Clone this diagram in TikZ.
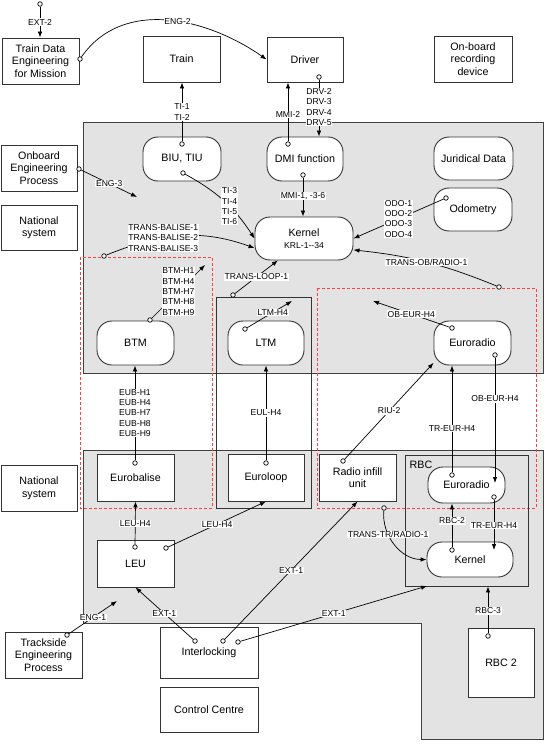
\documentclass[tikz,border=0pt]{standalone}
\usepackage{fontspec}
\setmainfont{Liberation Sans}
\usetikzlibrary{arrows.meta}

\newcommand{\lblsize}{\fontsize{8.6}{10.3}\selectfont}

\begin{document}
\begin{tikzpicture}[
    x=1pt, y=1pt,
    box/.style={draw=black!80, line width=0.9pt, fill=white, minimum width=77pt,
                minimum height=45pt, inner sep=1pt, align=center,
                font=\fontsize{10.7}{12.5}\selectfont},
    rbox/.style={box, rounded corners=15pt},
    region/.style={draw=black!75, line width=0.9pt, fill=black!11},
    group/.style={draw=black!80, line width=0.9pt, inner sep=0pt},
    zone/.style={draw=red!75, line width=0.9pt, dash pattern=on 3pt off 2pt},
    arrow/.style={-{Latex[length=6pt,width=4.5pt]}, line width=0.7pt},
    port/.style={circle, draw, fill=white, line width=0.7pt, minimum size=4.5pt, inner sep=0pt},
    lbl/.style={fill=white, inner sep=0.6pt, align=center, font=\lblsize}
]
\useasboundingbox (0,0) rectangle (545,-746);

% grey areas: on-board and trackside
\path[region] (83,-122) rectangle (543,-373);
\path[region] (83,-450) -- (543,-450) -- (543,-739) -- (421,-739) -- (421,-623)
              -- (83,-623) -- cycle;

% red dashed groupings
\draw[zone] (80,-257) rectangle (212,-508);
\draw[zone] (317,-288) rectangle (536,-508);

% enclosures
\draw[group] (216,-297) rectangle (311,-508);
\node[group, draw, minimum width=123pt, minimum height=131pt] (rbc) at (466.5,-520.5) {};
\node[font=\fontsize{10.7}{12.5}\selectfont] (rbctitle) at (421,-465) {RBC};

% top row
\node[box, minimum height=46pt] (tde) at (40.5,-61) {Train Data\\Engineering\\for Mission};
\node[box, minimum height=46pt] (train) at (181.5,-59) {Train};
\node[box, minimum width=76pt] (driver) at (305,-59.5) {Driver};
\node[box, minimum width=78pt, minimum height=46pt] (obrec) at (473,-59) {On-board\\recording\\device};

% on-board
\node[box, minimum width=76pt, minimum height=46pt] (obe) at (39,-168) {Onboard\\Engineering\\Process};
\node[box, minimum width=76pt] (nat1) at (39,-227.5) {National\\system};
\node[rbox, minimum width=78pt, minimum height=44pt] (biu) at (182,-159) {BIU, TIU};
\node[rbox, minimum width=76pt, minimum height=44pt] (dmi) at (305,-159) {DMI function};
\node[rbox, minimum width=79pt, minimum height=43pt] (jur) at (473.5,-158.5) {Juridical Data};
\node[rbox, minimum width=78pt, minimum height=43pt] (odo) at (473,-209.5) {Odometry};
\node[rbox, minimum width=98pt, minimum height=43pt] (kernel) at (304,-238.5)
     {Kernel\\{\lblsize KRL-1-{}-34}};
\node[rbox, minimum height=44pt] (btm) at (135.5,-343) {BTM};
\node[rbox, minimum width=76pt, minimum height=44pt] (ltm) at (266,-343) {LTM};
\node[rbox, minimum height=44pt] (obeur) at (472.5,-343) {Euroradio};

% trackside
\node[box, minimum height=47pt] (eurobalise) at (135.5,-477.5) {Eurobalise};
\node[box, minimum width=76pt, minimum height=47pt] (euroloop) at (266,-477.5) {Euroloop};
\node[box, minimum width=76pt, minimum height=46pt] (nat2) at (39,-488) {National\\system};
\node[box, minimum height=47pt] (riu) at (357.5,-477.5) {Radio infill\\unit};
\node[rbox, minimum height=36pt] (rbceur) at (466.5,-485) {Euroradio};
\node[rbox, minimum width=86pt, minimum height=35pt] (rbckrl) at (470,-559.5) {Kernel};
\node[box, minimum height=47pt] (leu) at (135.5,-563.5) {LEU};
\node[box, minimum height=46pt] (tep) at (43.5,-655) {Trackside\\Engineering\\Process};
\node[box, minimum width=98pt, minimum height=51pt] (il) at (209,-652.5) {Interlocking};
\node[box, minimum width=98pt] (cc) at (209,-709.5) {Control Centre};
\node[box, minimum width=66pt, minimum height=69pt] (rbc2) at (501,-662.5) {RBC 2};

% ports
\foreach \n/\x/\y in {ext2/40/-4, tde/80/-59, drv/319/-77, biuup/182/-144,
    biudn/183/-173, dmiup/288/-144, dmidn/303/-175, obe/79/-169, odo/446/-198,
    trob/499/-287, balise/104/-256, loop/233/-295, btm/150/-320, ltm/245/-329,
    eura/452/-328, eurb/495/-355, riu/343/-461, riub/384/-508, eub/135/-463,
    eul/266/-463, rbcer/452/-475, rbcerb/494/-497, rbckrl/452/-550,
    leua/135/-547, leub/166/-548, tep/67/-635, ila/195/-641, ilb/223/-641,
    ilc/238/-642, rbc2/488/-636}
    \node[port] (p-\n) at (\x,\y) {};

% free ends
\coordinate (eng3end) at (137,-197);
\coordinate (btmend) at (205,-265);
\coordinate (ltmend) at (292,-301);
\coordinate (eurend) at (373,-301);
\coordinate (eng1end) at (117,-601);
\coordinate (obeurtip) at (495,-483);
\coordinate (trkrltip) at (494,-550);
\coordinate (ext1rbc) at (427,-586);

% connectors
\draw[arrow] (p-ext2) -- node[lbl] (l-ext2) {EXT-2} (p-ext2 |- tde.north);
\draw[arrow] (p-tde) to[out=55, in=145] node[lbl, pos=0.55] (l-eng2) {ENG-2} (driver.west);
\draw[arrow] (p-biuup) -- node[lbl] (l-ti1) {TI-1\\TI-2} (p-biuup |- train.south);
\draw[arrow] (p-dmiup) -- node[lbl, pos=0.45] (l-mmi2) {MMI-2} (p-dmiup |- driver.south);
\draw[arrow] (p-drv) -- node[lbl, pos=0.48] (l-drv) {DRV-2\\DRV-3\\DRV-4\\DRV-5} (p-drv |- dmi.north);
\draw[arrow] (p-dmidn) -- node[lbl, pos=0.48] (l-mmi1) {MMI-1, -3-6} (p-dmidn |- kernel.north);
\draw[arrow] (p-biudn) to[bend left=14] node[lbl, pos=0.58] (l-ti3) {TI-3\\TI-4\\TI-5\\TI-6} (kernel.west);
\draw[arrow] (p-balise) to[out=22, in=160] node[lbl, pos=0.38] (l-balise)
     {TRANS-BALISE-1\\TRANS-BALISE-2\\TRANS-BALISE-3} (kernel.191);
\draw[arrow] (p-loop) -- node[lbl] (l-loop) {TRANS-LOOP-1} (kernel.220);
\draw[arrow] (p-odo) -- node[lbl] (l-odo) {ODO-1\\ODO-2\\ODO-3\\ODO-4} (kernel.east);
\draw[arrow] (p-trob) to[bend right=8] node[lbl] (l-trob) {TRANS-OB/RADIO-1} (kernel.-13);
\draw[arrow] (p-obe) -- node[lbl] (l-eng3) {ENG-3} (eng3end);
\draw[arrow] (p-btm) -- node[lbl] (l-btm) {BTM-H1\\BTM-H4\\BTM-H7\\BTM-H8\\BTM-H9} (btmend);
\draw[arrow] (p-ltm) -- node[lbl, pos=0.57] (l-ltm) {LTM-H4} (ltmend);
\draw[arrow] (p-eura) -- node[lbl] (l-eura) {OB-EUR-H4} (eurend);
\draw[arrow] (p-eurb) -- node[lbl, pos=0.33] (l-eurb) {OB-EUR-H4} (obeurtip);
\draw[arrow] (p-rbcer) -- node[lbl, pos=0.41] (l-trera) {TR-EUR-H4} (p-rbcer |- obeur.south);
\draw[arrow] (p-riu) -- node[lbl] (l-riu) {RIU-2} (obeur.207);
\draw[arrow] (p-eub) -- node[lbl] (l-eub) {EUB-H1\\EUB-H4\\EUB-H7\\EUB-H8\\EUB-H9} (p-eub |- btm.south);
\draw[arrow] (p-eul) -- node[lbl] (l-eul) {EUL-H4} (ltm.south);
\draw[arrow] (p-leua) -- node[lbl, pos=0.48] (l-leua) {LEU-H4} (eurobalise.south);
\draw[arrow] (p-leub) -- node[lbl] (l-leub) {LEU-H4} (euroloop.south);
\draw[arrow] (p-rbckrl) -- node[lbl, pos=0.6] (l-rbc2) {RBC-2} (p-rbckrl |- rbceur.south);
\draw[arrow] (p-rbcerb) -- node[lbl, pos=0.51] (l-trerb) {TR-EUR-H4} (trkrltip);
\draw[arrow] (p-riub) to[out=-95, in=180] node[lbl, pos=0.33] (l-trtr) {TRANS-TR/RADIO-1} (rbckrl.west);
\draw[arrow] (p-rbc2) -- node[lbl, pos=0.48] (l-rbc3) {RBC-3} (p-rbc2 |- rbc.south);
\draw[arrow] (p-ila) -- node[lbl] (l-exta) {EXT-1} (leu.south);
\draw[arrow] (p-ilb) -- node[lbl] (l-extb) {EXT-1} (riu.south);
\draw[arrow] (p-ilc) -- node[lbl] (l-extc) {EXT-1} (ext1rbc);
\draw[arrow] (p-tep) -- node[lbl] (l-eng1) {ENG-1} (eng1end);
\end{tikzpicture}
\end{document}
